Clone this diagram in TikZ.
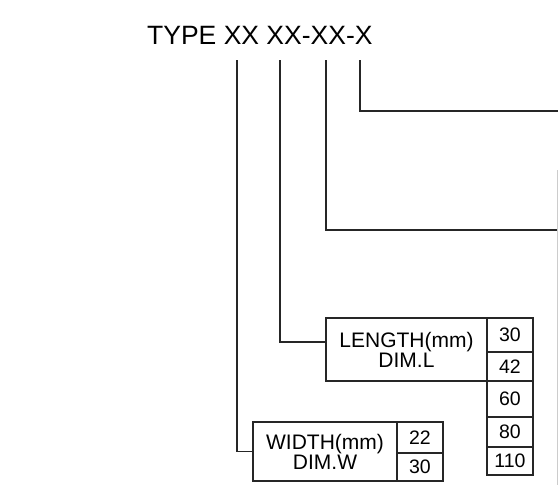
\documentclass[tikz,border=0pt]{standalone}
\usepackage{fontspec}
\setmainfont{Liberation Sans}
\begin{document}
\begin{tikzpicture}[x=1pt,y=-1pt,
  conn/.style={line width=1.1pt, draw=black!85},
  lblbox/.style={draw=black!85, line width=1.1pt, inner sep=0pt, outer sep=0pt, align=center,
    font=\fontsize{21}{18}\selectfont},
  cell/.style={draw=black!85, line width=1.1pt, inner sep=0pt, outer sep=0pt,
    minimum width=46pt, font=\fontsize{19.5}{20}\selectfont},
  titlestyle/.style={anchor=base west, inner sep=0pt, font=\fontsize{26.5}{30}\selectfont}]
\useasboundingbox (0,0) rectangle (558,485);

\node[titlestyle] (title) at (147,44) {TYPE XX XX-XX-X};

% length box and values
\node[lblbox, minimum width=161pt, minimum height=63pt] (lenbox) at (406.5,349.5) {LENGTH(mm)\\DIM.L};
\node[cell, minimum height=34pt] (l30) at (510,335) {30};
\node[cell, minimum height=29pt] (l42) at (510,366.5) {42};
\node[cell, minimum height=36pt] (l60) at (510,399) {60};
\node[cell, minimum height=30pt] (l80) at (510,432) {80};
\node[cell, minimum height=28pt] (l110) at (510,461) {110};

% width box and values
\node[lblbox, minimum width=144pt, minimum height=59pt] (widbox) at (325,451.5) {WIDTH(mm)\\DIM.W};
\node[cell, minimum height=31pt] (w22) at (420,437.5) {22};
\node[cell, minimum height=28pt] (w30) at (420,467) {30};

% leg start points under the title
\coordinate (s1) at (237,60);
\coordinate (s2) at (280,60);
\coordinate (s3) at (326,60);
\coordinate (s4) at (360,60);
% free ends at the right edge
\coordinate (e3) at (558,230);
\coordinate (e4) at (558,111);

\draw[conn] (s1) |- (widbox.west);
\draw[conn] (s2) |- ([yshift=7.5pt]lenbox.west);
\draw[conn] (s3) |- (e3);
\draw[conn] (s4) |- (e4);

% faint edge line
\coordinate (f1) at (557,170);
\coordinate (f2) at (557,485);
\draw[black!20, line width=0.8pt] (f1) -- (f2);
\end{tikzpicture}
\end{document}
